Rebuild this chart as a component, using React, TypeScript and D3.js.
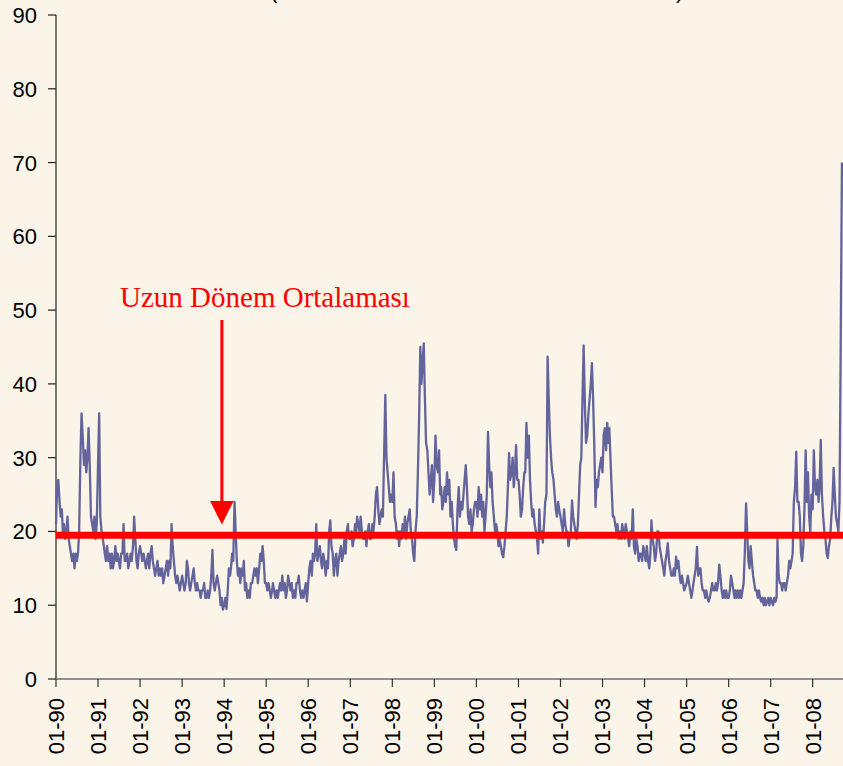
import React from "react";
import * as d3 from "d3";

// Sample days within each month (3 readings per month)
const sampleDays = [1, 11, 21];

// VIX readings, 3 per month (Jan..Dec)
const vix1990 = [21,26,27, 24,22,23, 20,21,19, 20,22,19, 18,17,16, 17,15,17, 16,17,20, 30,36,33, 29,31,28, 30,34,29, 22,21,20, 22,19,21];
const vix1991 = [29,36,22, 20,19,18, 17,16,18, 16,17,15, 17,15,16, 18,16,17, 16,15,17, 17,21,16, 16,17,15, 16,17,16, 18,22,19, 16,15,17];
const vix1992 = [18,17,16, 17,16,15, 16,17,15, 17,18,16, 15,14,15, 16,14,15, 14,15,13, 14,15,16, 14,16,15, 21,18,16, 14,13,14, 13,12,13];
const vix1993 = [14,13,12, 13,16,15, 13,12,13, 14,15,13, 12,13,12, 12,11,12, 12,13,11, 11,12,11, 12,14,17.5, 13,12,13, 14,13,12, 10,11,9.4];
const vix1994 = [10,11,9.5, 12,15,14, 15,17,16, 24,20,16, 14,15,13, 15,14,16, 12,13,11, 12,11,13, 13,14,15, 14,15,13, 15,17,16, 18,16,13];
const vix1995 = [13,12,13, 12,11,12, 13,12,11, 12,11,12, 13,12,14, 12,13,11, 12,14,13, 12,13,11, 12,11,13, 13,14,12, 11,12,11, 12,13,10.5];
const vix1996 = [13,15,16, 14,17,16, 17,21,16, 17,18,16, 15,17,16, 14,16,15, 20,21.5,18, 17,14,16, 17,14,16, 17,18,16, 17,19,17, 20,21,19];
const vix1997 = [19,20,18, 19,21,20, 22,21,20, 22,20,19, 19,20,18, 20,21,19, 19,21,20, 22,25,26, 23,21,22, 23,22,30, 38.5,30,28, 26,24,25];
const vix1998 = [24,28,22, 21,19,20, 18,20,19, 21,20,22, 19,21,22, 23,20,19, 17,16,20, 22,28,35, 45,40,43, 45.5,38,32, 31,28,25, 27,29,24];
const vix1999 = [27,33,29, 28,31,25, 26,23,24, 26,24,28, 25,27,22, 24,21,19, 18,17.5,23, 26,22,24, 23,25,27, 29,26,22, 21,23,20, 21,23,24];
const vix2000 = [24,22,26, 23,25,22, 24,20,22, 25,33.5,29, 26,28,24, 22,20,21, 20,18,19, 18,17,16.5, 18,20,22, 26,30.6,27, 28,30,26, 28,31.7,27];
const vix2001 = [27,25,22, 23,26,28, 28,34.7,30, 33,27,24, 22,23,21, 20,19,17, 23,19,20, 18.5,21,24, 25,43.7,38, 33,30,28, 27,25,23, 22,24,23];
const vix2002 = [22,21,20, 23,21,20, 20,18,19, 20,24.2,22, 21,20,19, 21,25,29, 30,38,45.2, 37,32,33, 36,38,40, 42.8,38,32, 23.3,27,26, 28,29,30];
const vix2003 = [28,33,34, 31,34.7,32, 34,30,26, 22,22,21, 20,21,19, 20,19,21, 20,19,21, 20,19,18, 20,19,23, 18,17,19, 18,16,17, 17,16,18];
const vix2004 = [17,16,18, 16,15,17, 21.5,19,18, 16,17,20, 20,18,17, 16,15,14, 16,17,18.4, 16,15,14, 14,15,14, 16.6,15,16, 14,13,14, 13,12,12.5];
const vix2005 = [13,14,13, 12,11,12, 13,14,15, 17.9,14,15, 15,13,12, 12,11,12, 11,10.5,11, 12,13,12, 12,13,12, 13,15.5,14, 12,11,12, 11,12,11];
const vix2006 = [11,12,14, 13,12,11, 12,11,12, 11,12,11, 12,13,17, 23.8,20,16, 15,18,16, 14,13,12, 12,11,12, 11,10.5,11, 10,11,10, 10.5,11,10];
const vix2007 = [11,10.5,10, 11,10.5,11, 19,14,13, 13,12,13, 13,12,13, 14,16,15, 16,17,24, 26,30.8,24, 24,22,17, 16,18,23, 31,24,28, 22,20,25];
const vix2008 = [23,31,26, 25,27,24, 26,32.4,25, 22,20,19, 17,16.4,18, 19,22,24, 28.6,25,22, 21,20,24, 46.9,70];

const seriesByYear: [number, number[]][] = [
  [1990, vix1990], [1991, vix1991], [1992, vix1992], [1993, vix1993], [1994, vix1994],
  [1995, vix1995], [1996, vix1996], [1997, vix1997], [1998, vix1998], [1999, vix1999],
  [2000, vix2000], [2001, vix2001], [2002, vix2002], [2003, vix2003], [2004, vix2004],
  [2005, vix2005], [2006, vix2006], [2007, vix2007], [2008, vix2008],
];

const tickYears = [1990,1991,1992,1993,1994,1995,1996,1997,1998,1999,2000,2001,2002,2003,2004,2005,2006,2007,2008];
const tickLabels = ["01-90","01-91","01-92","01-93","01-94","01-95","01-96","01-97","01-98","01-99","01-00","01-01","01-02","01-03","01-04","01-05","01-06","01-07","01-08"];
const yTicks = [0, 10, 20, 30, 40, 50, 60, 70, 80, 90];

const longRunMean = 19.5;
const annotationText = "Uzun Dönem Ortalaması";

const W = 843;
const H = 766;

export default function App() {
  const data: { d: Date; v: number }[] = [];
  seriesByYear.forEach(([yr, vals]) => {
    vals.forEach((v, j) => {
      data.push({ d: new Date(yr, Math.floor(j / 3), sampleDays[j % 3]), v });
    });
  });

  const x = d3.scaleTime().domain([new Date(1990, 0, 1), new Date(2008, 0, 1)]).range([56, 812.7]);
  const y = d3.scaleLinear().domain([0, 90]).range([679, 15]);

  const line = d3.line<{ d: Date; v: number }>().x((p) => x(p.d)).y((p) => y(p.v));

  const axisX0 = x(new Date(1990, 0, 1));
  const yMean = y(longRunMean);
  const arrowX = x(new Date(1993, 11, 12));
  const arrowTop = 320;
  const arrowTipY = 524.5;

  return (
    <svg width={W} height={H} style={{ position: "absolute", left: 0, top: 0, display: "block" }}>
      <rect x={0} y={0} width={W} height={H} fill="#FAF4E9" />
      {/* clipped title remnants */}
      <text x={270} y={-2} fontFamily="Liberation Sans, Arial, sans-serif" fontSize={22} fill="#000">(</text>
      <text x={676} y={-2} fontFamily="Liberation Sans, Arial, sans-serif" fontSize={22} fill="#000">)</text>

      {/* y axis */}
      <line x1={axisX0} x2={axisX0} y1={y(90)} y2={y(0)} stroke="#222" strokeWidth={1.2} />
      {yTicks.map((t) => (
        <g key={t}>
          <line x1={axisX0 - 8} x2={axisX0} y1={y(t)} y2={y(t)} stroke="#222" strokeWidth={1.2} />
          <text x={37} y={y(t) + 8} textAnchor="end" fontFamily="Liberation Sans, Arial, sans-serif" fontSize={22} fill="#000">
            {t}
          </text>
        </g>
      ))}

      {/* x axis */}
      <line x1={axisX0} x2={W} y1={y(0)} y2={y(0)} stroke="#6e6e6e" strokeWidth={1.4} />
      {tickYears.map((yr, i) => {
        const tx = x(new Date(yr, 0, 1));
        return (
          <g key={yr}>
            <line x1={tx} x2={tx} y1={y(0)} y2={y(0) + 8} stroke="#333" strokeWidth={1.2} />
            <text
              transform={`translate(${tx + 7.9},698) rotate(-90)`}
              textAnchor="end"
              fontFamily="Liberation Sans, Arial, sans-serif"
              fontSize={22}
              fill="#000"
            >
              {tickLabels[i]}
            </text>
          </g>
        );
      })}

      {/* series */}
      <path d={line(data) || ""} fill="none" stroke="#64649C" strokeWidth={2.3} strokeLinejoin="round" />

      {/* long-run mean */}
      <line x1={axisX0} x2={W} y1={yMean} y2={yMean} stroke="#FF0000" strokeWidth={7} />

      {/* annotation */}
      <text x={120} y={307} fontFamily="Liberation Serif, Times New Roman, serif" fontSize={29} fill="#FF0000">
        {annotationText}
      </text>
      <line x1={arrowX} x2={arrowX} y1={arrowTop} y2={arrowTipY - 20} stroke="#FF0000" strokeWidth={3} />
      <path
        d={`M${arrowX - 11.8},${arrowTipY - 23.5} L${arrowX + 11.8},${arrowTipY - 23.5} L${arrowX},${arrowTipY} Z`}
        fill="#FF0000"
      />
    </svg>
  );
}
